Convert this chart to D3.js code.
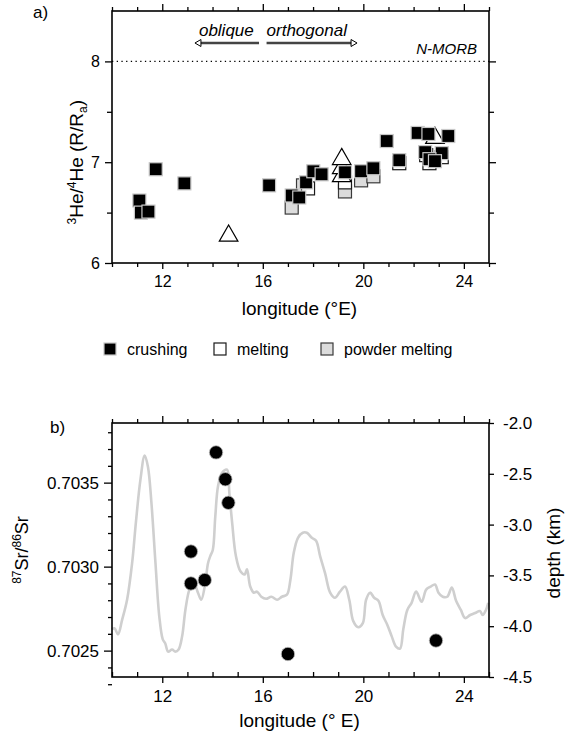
<!DOCTYPE html>
<html><head><meta charset="utf-8">
<script src="https://cdn.jsdelivr.net/npm/d3@7"></script>
<style>
body{margin:0;background:#fff;}
svg text{font-family:"Liberation Sans",Arial,Helvetica,sans-serif;fill:#000;}
</style></head>
<body><svg id="c" width="569" height="737"></svg>
<script>
// ---- Panel a data: 3He/4He vs longitude ----
const crushLon = [11.09, 11.15, 11.45, 11.74, 12.88, 16.25, 17.15, 17.45, 17.72, 18.01, 18.34, 19.27, 19.91, 20.40, 20.93, 21.43, 22.16, 22.59, 23.38, 22.46, 23.12, 22.63, 22.85];
const crushHe  = [6.62, 6.50, 6.51, 6.93, 6.79, 6.77, 6.67, 6.65, 6.80, 6.91, 6.88, 6.90, 6.91, 6.94, 7.21, 7.02, 7.29, 7.28, 7.26, 7.10, 7.09, 7.03, 7.01];
const meltLon = [17.80, 19.27, 21.43, 22.63, 23.12, 22.50];
const meltHe  = [6.74, 6.80, 6.99, 6.99, 7.05, 7.07];
const powderLon = [17.15, 19.27, 19.91, 20.40, 17.60];
const powderHe  = [6.55, 6.71, 6.82, 6.86, 6.77];
const triLon = [14.64, 19.14, 19.14, 19.14, 22.85];
const triHe  = [6.28, 6.87, 6.95, 7.04, 7.25];
const nmorb = 8;
const xTicksMajor = [12, 16, 20, 24];
const heTicks = [6, 7, 8];
const legendLabels = ["crushing", "melting", "powder melting"];

// ---- Panel b data: 87Sr/86Sr and depth vs longitude ----
const srLon = [14.14, 14.51, 14.63, 13.14, 13.14, 13.69, 17.00, 22.89];
const srVal = [0.70368, 0.70352, 0.70338, 0.70309, 0.70290, 0.70292, 0.70248, 0.70256];
const depthLon = [10.0,10.1,10.24,10.40,10.60,10.80,10.95,11.13,11.30,11.43,11.57,11.73,11.88,12.02,12.12,12.23,12.39,12.52,12.65,12.79,12.92,13.08,13.25,13.42,13.55,13.69,13.82,13.91,14.01,14.11,14.22,14.38,14.58,14.67,14.78,14.93,15.11,15.28,15.37,15.50,15.64,15.77,15.94,16.13,16.34,16.57,16.76,16.96,17.10,17.23,17.40,17.59,17.75,17.95,18.12,18.28,18.48,18.68,18.87,19.07,19.27,19.44,19.60,19.80,19.98,20.11,20.27,20.43,20.60,20.77,20.96,21.13,21.30,21.46,21.59,21.75,21.92,22.10,22.32,22.50,22.68,22.85,22.99,23.16,23.34,23.52,23.69,23.88,24.05,24.25,24.45,24.64,24.75,24.88,24.97];
const depthKm = [-4.03,-4.02,-4.08,-3.94,-3.74,-3.38,-2.98,-2.56,-2.32,-2.43,-2.79,-3.38,-3.90,-4.13,-4.17,-4.25,-4.23,-4.25,-4.23,-4.10,-3.84,-3.64,-3.57,-3.67,-3.74,-3.61,-3.38,-3.31,-3.25,-2.92,-2.62,-2.49,-2.46,-2.69,-2.98,-3.31,-3.46,-3.49,-3.44,-3.61,-3.67,-3.66,-3.71,-3.73,-3.71,-3.74,-3.71,-3.69,-3.54,-3.28,-3.13,-3.08,-3.08,-3.13,-3.16,-3.31,-3.48,-3.67,-3.72,-3.66,-3.61,-3.74,-3.95,-4.01,-3.97,-3.74,-3.67,-3.72,-3.75,-3.89,-3.99,-4.10,-4.20,-4.22,-4.03,-3.84,-3.77,-3.66,-3.76,-3.64,-3.61,-3.59,-3.67,-3.71,-3.71,-3.62,-3.75,-3.84,-3.92,-3.89,-3.87,-3.85,-3.89,-3.84,-3.77];
const srTicks = [0.7025, 0.7030, 0.7035];
const depthTicks = [-4.5, -4.0, -3.5, -3.0, -2.5, -2.0];

const svg = d3.select("#c");
const L = 112, R = 489;

// ================= Panel a =================
const aTop = 11, aBot = 263;
const x = d3.scaleLinear().domain([10, 25]).range([L, R]);
const yA = d3.scaleLinear().domain([6, 8.5]).range([aBot, aTop]);
const minorX = d3.range(10, 26, 1).filter(v => !xTicksMajor.includes(v));

const gA = svg.append("g");
function lonAxes(g, top, bot, inwardMinorBottom, labSize) {
  g.append("g").attr("transform", `translate(0,${top})`)
    .call(d3.axisTop(x).tickValues(minorX).tickSize(4).tickFormat(""));
  g.append("g").attr("transform", `translate(0,${top})`)
    .call(d3.axisTop(x).tickValues(xTicksMajor).tickSize(7).tickFormat(""));
  g.append("g").attr("transform", `translate(0,${bot})`)
    .call(d3.axisBottom(x).tickValues(minorX).tickSize(inwardMinorBottom ? -5 : 4).tickFormat(""));
  g.append("g").attr("transform", `translate(0,${bot})`).attr("class", "lab").attr("data-fs", labSize)
    .call(d3.axisBottom(x).tickValues(xTicksMajor).tickSize(6).tickPadding(7).tickFormat(d3.format("d")));
}
lonAxes(gA, aTop, aBot, false, 16);
gA.append("g").attr("transform", `translate(${L},0)`)
  .call(d3.axisLeft(yA).tickValues([6.5, 7.5]).tickSize(5).tickFormat(""));
gA.append("g").attr("transform", `translate(${L},0)`).attr("class", "lab").attr("data-fs", 16)
  .call(d3.axisLeft(yA).tickValues(heTicks).tickSize(7).tickPadding(5).tickFormat(d3.format("d")));
gA.append("g").attr("transform", `translate(${R},0)`)
  .call(d3.axisRight(yA).tickValues([6.5, 7.5]).tickSize(5).tickFormat(""));
gA.append("g").attr("transform", `translate(${R},0)`)
  .call(d3.axisRight(yA).tickValues(heTicks).tickSize(7).tickFormat(""));

// N-MORB dotted line
gA.append("line").attr("x1", L).attr("x2", R).attr("y1", yA(nmorb)).attr("y2", yA(nmorb))
  .attr("stroke", "#000").attr("stroke-width", 1.3).attr("stroke-dasharray", "1.3,3.4");
gA.append("text").attr("x", 477).attr("y", yA(nmorb) - 7).attr("text-anchor", "end")
  .attr("font-size", 15).attr("font-style", "italic").text("N-MORB");

// oblique / orthogonal arrows
gA.append("text").attr("x", x(15.64)).attr("y", 36).attr("text-anchor", "end")
  .attr("font-size", 17).attr("font-style", "italic").text("oblique");
gA.append("text").attr("x", x(16.15)).attr("y", 36).attr("text-anchor", "start")
  .attr("font-size", 17).attr("font-style", "italic").text("orthogonal");
function arrow(x1, x2, yy) {
  const dir = Math.sign(x2 - x1);
  gA.append("line").attr("x1", x1).attr("x2", x2 - dir * 4).attr("y1", yy).attr("y2", yy)
    .attr("stroke", "#444").attr("stroke-width", 2.6);
  gA.append("path")
    .attr("d", `M${x2},${yy} L${x2 - dir * 6},${yy - 3.5} L${x2 - dir * 6},${yy + 3.5} Z`)
    .attr("fill", "#fff").attr("stroke", "#000").attr("stroke-width", 1);
}
arrow(x(15.85), x(13.3), 43);
arrow(x(16.15), x(19.75), 43);

// markers
const S = 13;
function squares(lons, vals, fill, stroke) {
  gA.append("g").selectAll("rect").data(lons).join("rect")
    .attr("x", d => x(d) - S / 2).attr("y", (d, i) => yA(vals[i]) - S / 2)
    .attr("width", S).attr("height", S)
    .attr("fill", fill).attr("stroke", stroke).attr("stroke-width", 1.2);
}
squares(powderLon, powderHe, "#dcdcdc", "#3a3a3a");
squares(meltLon, meltHe, "#ffffff", "#1a1a1a");
const tri = d3.symbol().type(d3.symbolTriangle).size(150);
gA.append("g").selectAll("path").data(triLon).join("path")
  .attr("d", tri)
  .attr("transform", (d, i) => `translate(${x(d)},${yA(triHe[i]) + 1})`)
  .attr("fill", "#fff").attr("stroke", "#000").attr("stroke-width", 1.2);
squares(crushLon, crushHe, "#000", "#c8c8c8");

// axis titles panel a
gA.append("text").attr("x", (L + R) / 2 - 1).attr("y", 315).attr("text-anchor", "middle")
  .attr("font-size", 19).text("longitude (°E)");
const ta = gA.append("text").attr("transform", `translate(83,${yA(7.0)}) rotate(-90)`)
  .attr("text-anchor", "middle").attr("font-size", 19);
ta.append("tspan").attr("font-size", 12).attr("dy", -7).text("3");
ta.append("tspan").attr("dy", 7).text("He/");
ta.append("tspan").attr("font-size", 12).attr("dy", -7).text("4");
ta.append("tspan").attr("dy", 7).text("He (R/R");
ta.append("tspan").attr("font-size", 12).attr("dy", 4).text("a");
ta.append("tspan").attr("dy", -4).text(")");
gA.append("text").attr("x", 33).attr("y", 18).attr("font-size", 17).text("a)");

// frame
gA.append("rect").attr("x", L).attr("y", aTop).attr("width", R - L).attr("height", aBot - aTop)
  .attr("fill", "none").attr("stroke", "#000").attr("stroke-width", 1.6);

// legend
const leg = svg.append("g");
const legX = [104, 214, 321];
const legFill = ["#000", "#fff", "#dcdcdc"];
const legStroke = ["#c8c8c8", "#1a1a1a", "#3a3a3a"];
legendLabels.forEach((t, i) => {
  leg.append("rect").attr("x", legX[i]).attr("y", 343).attr("width", 12).attr("height", 12)
    .attr("fill", legFill[i]).attr("stroke", legStroke[i]).attr("stroke-width", 1.2);
  leg.append("text").attr("x", legX[i] + 23).attr("y", 355).attr("font-size", 16).text(t);
});

// ================= Panel b =================
const bTop = 423, bBot = 677;
const ySr = d3.scaleLinear().domain([0.702343, 0.703855]).range([bBot, bTop]);
const yD = d3.scaleLinear().domain([-4.5, -2.0]).range([bBot, bTop]);
const gB = svg.append("g");
lonAxes(gB, bTop, bBot, true, 17);
const srMinor = d3.range(0.7023, 0.70386, 0.0001).map(v => +v.toFixed(4)).filter(v => !srTicks.includes(v));
gB.append("g").attr("transform", `translate(${L},0)`)
  .call(d3.axisLeft(ySr).tickValues(srMinor).tickSize(4).tickFormat(""));
gB.append("g").attr("transform", `translate(${L},0)`).attr("class", "lab").attr("data-fs", 17)
  .call(d3.axisLeft(ySr).tickValues(srTicks).tickSize(8).tickPadding(5).tickFormat(d3.format(".4f")));
gB.append("g").attr("transform", `translate(${R},0)`).attr("class", "lab").attr("data-fs", 17)
  .call(d3.axisRight(yD).tickValues(depthTicks).tickSize(5).tickPadding(9)
    .tickFormat(d => d.toFixed(1)));

// depth profile
const line = d3.line().x((d, i) => x(depthLon[i])).y(d => yD(d)).curve(d3.curveCatmullRom.alpha(0.5));
gB.append("path").attr("d", line(depthKm)).attr("fill", "none")
  .attr("stroke", "#cfcfcf").attr("stroke-width", 2.6).attr("stroke-linejoin", "round");

// Sr points
gB.append("g").selectAll("circle").data(srLon).join("circle")
  .attr("cx", d => x(d)).attr("cy", (d, i) => ySr(srVal[i])).attr("r", 6.7)
  .attr("fill", "#000").attr("stroke", "#bbb").attr("stroke-width", 0.8);

// frame
gB.append("rect").attr("x", L).attr("y", bTop).attr("width", R - L).attr("height", bBot - bTop)
  .attr("fill", "none").attr("stroke", "#000").attr("stroke-width", 1.6);

gB.append("text").attr("x", (L + R) / 2 - 1).attr("y", 727).attr("text-anchor", "middle")
  .attr("font-size", 19).text("longitude (° E)");
const tb = gB.append("text").attr("transform", `translate(28,550) rotate(-90)`)
  .attr("text-anchor", "middle").attr("font-size", 18);
tb.append("tspan").attr("font-size", 12).attr("dy", -7).text("87");
tb.append("tspan").attr("dy", 7).text("Sr/");
tb.append("tspan").attr("font-size", 12).attr("dy", -7).text("86");
tb.append("tspan").attr("dy", 7).text("Sr");
gB.append("text").attr("transform", `translate(560,553) rotate(-90)`)
  .attr("text-anchor", "middle").attr("font-size", 19).text("depth (km)");
gB.append("text").attr("x", 50).attr("y", 433).attr("font-size", 17).text("b)");

// style axes
svg.selectAll(".domain").remove();
svg.selectAll(".tick line").attr("stroke", "#000").attr("stroke-width", 1.3);
svg.selectAll(".lab").each(function () {
  const fs = +this.getAttribute("data-fs");
  d3.select(this).selectAll(".tick text").attr("font-size", fs).attr("fill", "#000")
    .attr("font-family", "Liberation Sans, Arial, sans-serif");
});
</script>
</body></html>
